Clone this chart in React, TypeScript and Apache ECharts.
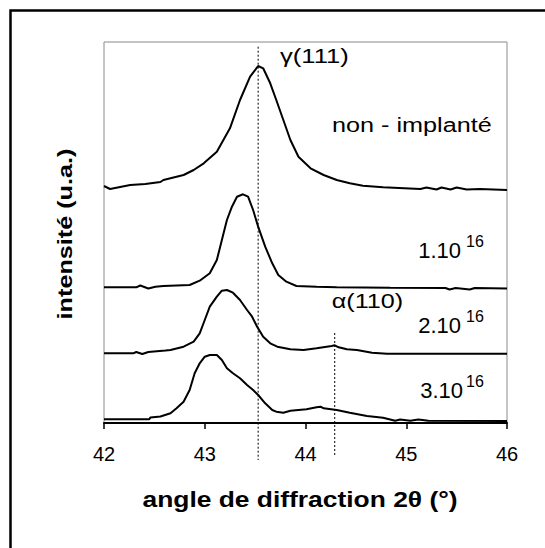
import React, { useEffect, useRef } from "react";
import * as echarts from "echarts";

// 2θ positions (degrees) and intensities (arbitrary units) for each sample
const nonImplTheta = [42.0, 42.06, 42.26, 42.41, 42.56, 42.59, 42.79, 42.89, 42.99, 43.12, 43.25, 43.35, 43.45, 43.53, 43.58, 43.65, 43.71, 43.78, 43.85, 43.93, 44.05, 44.18, 44.31, 44.44, 44.57, 44.77, 45.14, 45.2, 45.3, 45.35, 45.44, 45.5, 45.6, 45.73, 46.0];
const nonImplInt = [237, 234, 238, 239, 241, 243, 248, 253, 259.7, 271.3, 294.7, 323, 346.3, 357, 354.7, 339.7, 323, 303, 283, 266.3, 254.7, 248, 243, 239.7, 237.3, 235.7, 234, 235.5, 233.5, 235.5, 233.5, 235.5, 233.5, 234, 233];

const dose1Theta = [42.0, 42.32, 42.36, 42.44, 42.51, 42.59, 42.85, 42.95, 43.05, 43.12, 43.17, 43.22, 43.27, 43.32, 43.38, 43.43, 43.48, 43.53, 43.6, 43.67, 43.73, 43.81, 43.91, 44.11, 44.31, 44.84, 45.39, 45.43, 45.49, 45.63, 45.68, 46.0];
const dose1Int = [135.7, 135.7, 137.5, 134.5, 136.3, 137, 138, 142.3, 149.7, 163, 183, 203, 216.3, 226.3, 228.7, 226.3, 213, 196.3, 176.3, 159.7, 148, 141.3, 137, 136.3, 135.7, 135.3, 135, 133.5, 135, 133.5, 135, 134.5];

const dose2Theta = [42.0, 42.29, 42.32, 42.38, 42.44, 42.61, 42.66, 42.79, 42.89, 42.95, 43.0, 43.05, 43.12, 43.17, 43.22, 43.28, 43.35, 43.42, 43.47, 43.52, 43.58, 43.65, 43.72, 43.85, 43.98, 44.11, 44.21, 44.26, 44.29, 44.33, 44.41, 44.51, 44.66, 44.81, 46.0];
const dose2Int = [69.7, 69.7, 71, 69, 71, 72.5, 73, 76.3, 81.3, 89.7, 103, 116.3, 126.3, 132.3, 133, 130.3, 123, 113, 106.3, 96.3, 86.3, 79.7, 76.3, 73.7, 73, 74.7, 76.3, 77, 77.7, 75.7, 73.7, 73, 70.3, 69.3, 69.3];

const dose3Theta = [42.0, 42.45, 42.46, 42.56, 42.66, 42.72, 42.79, 42.85, 42.9, 42.95, 43.0, 43.05, 43.12, 43.17, 43.22, 43.28, 43.35, 43.42, 43.48, 43.53, 43.6, 43.67, 43.71, 43.78, 43.85, 44.01, 44.11, 44.15, 44.18, 44.31, 44.44, 44.61, 44.77, 44.89, 44.94, 45.04, 45.12, 45.22, 46.0];
const dose3Int = [3.7, 3.7, 5.5, 6.5, 9.7, 14.7, 21.3, 33, 49.7, 59.7, 66.3, 68, 68, 63, 54.7, 49.7, 44.7, 38, 33, 28, 19.7, 13, 11.3, 10.3, 12.3, 13.7, 15.7, 16.3, 14.7, 13, 10.3, 7, 5.3, 2.3, 3.5, 2.3, 3.5, 2.3, 2];

// x axis ticks
const xMin = 42;
const xMax = 46;
const xStep = 1;
// y axis extent (arbitrary units)
const yMin = 0;
const yMax = 381;

// reference lines: γ(111) and α(110) peak positions, with their vertical extents (data units)
const gammaTheta = 43.53;
const gammaSpan = [376.3, -37];
const alphaTheta = 44.29;
const alphaSpan = [90, -34];

const zip = (xs: number[], ys: number[]) => xs.map((x, i) => [x, ys[i]]);

export default function App() {
  const ref = useRef<HTMLDivElement>(null);
  useEffect(() => {
    document.body.style.margin = "0";
    const chart = echarts.init(ref.current!, null, { renderer: "svg" });
    const lineSeries = (name: string, xs: number[], ys: number[]) => ({
      name,
      type: "line",
      data: zip(xs, ys),
      showSymbol: false,
      symbol: "none",
      lineStyle: { color: "#000", width: 2 },
      silent: true,
    });
    chart.setOption({
      animation: false,
      backgroundColor: "#fff",
      grid: { left: 104, right: 38, top: 42, bottom: 125, show: true, borderColor: "#8a8a8a", borderWidth: 1 },
      xAxis: {
        type: "value",
        min: xMin,
        max: xMax,
        interval: xStep,
        axisLine: { lineStyle: { color: "#000", width: 2 } },
        axisTick: { length: 6, lineStyle: { color: "#000", width: 1.5 } },
        axisLabel: { fontSize: 20, color: "#000", fontFamily: "Liberation Sans, Arial, sans-serif", margin: 21 },
        splitLine: { show: false },
      },
      yAxis: {
        type: "value",
        min: yMin,
        max: yMax,
        axisLine: { show: false },
        axisTick: { show: false },
        axisLabel: { show: false },
        splitLine: { show: false },
      },
      series: [
        lineSeries("non - implanté", nonImplTheta, nonImplInt),
        lineSeries("1.10^16", dose1Theta, dose1Int),
        lineSeries("2.10^16", dose2Theta, dose2Int),
        lineSeries("3.10^16", dose3Theta, dose3Int),
      ],
    });

    const px = (x: number, y: number) => chart.convertToPixel({ gridIndex: 0 }, [x, y]) as number[];
    const g0 = px(gammaTheta, gammaSpan[0]);
    const g1 = px(gammaTheta, gammaSpan[1]);
    const a0 = px(alphaTheta, alphaSpan[0]);
    const a1 = px(alphaTheta, alphaSpan[1]);
    const F = "Liberation Sans, Arial, sans-serif";
    const c = 0.3465;
    const txt = (text: string, x: number, baseline: number, fs: number, align: string, opts: any = {}) => ({
      type: "text",
      x,
      y: baseline - c * fs,
      scaleX: opts.scaleX ?? 1,
      rotation: opts.rotation ?? 0,
      style: {
        text,
        fontSize: fs,
        fontFamily: F,
        fontWeight: opts.bold ? "bold" : "normal",
        fill: "#000",
        align,
        verticalAlign: "middle",
      },
      silent: true,
    });
    chart.setOption({
      graphic: [
        { type: "rect", shape: { x: 10.5, y: 10.5, width: 1000, height: 1000 }, style: { fill: "none", stroke: "#000", lineWidth: 2.5 }, silent: true },
        { type: "line", shape: { x1: g0[0], y1: g0[1], x2: g1[0], y2: g1[1] }, style: { stroke: "#000", lineWidth: 1, lineDash: [2, 2] }, silent: true },
        { type: "line", shape: { x1: a0[0], y1: a0[1], x2: a1[0], y2: a1[1] }, style: { stroke: "#000", lineWidth: 1, lineDash: [2, 2] }, silent: true },
        txt("γ(111)", 280, 63.3, 21, "left", { scaleX: 1.22 }),
        txt("α(110)", 331.7, 308, 21, "left", { scaleX: 1.2 }),
        txt("non - implanté", 491.7, 131.7, 21, "right", { scaleX: 1.2 }),
        txt("1.10", 461, 258.3, 22, "right"),
        txt("16", 466, 246.7, 16, "left"),
        txt("2.10", 461, 333.3, 22, "right"),
        txt("16", 466, 321.7, 16, "left"),
        txt("3.10", 463, 398.3, 22, "right"),
        txt("16", 466, 386.7, 16, "left"),
        txt("angle de diffraction 2θ (°)", 300, 506.7, 22, "center", { bold: true, scaleX: 1.2 }),
        {
          type: "text",
          x: 71.7 - c * 21,
          y: 234,
          rotation: Math.PI / 2,
          scaleX: 1.2,
          style: { text: "intensité (u.a.)", fontSize: 21, fontFamily: F, fontWeight: "bold", fill: "#000", align: "center", verticalAlign: "middle" },
          silent: true,
        },
      ],
    });
    return () => chart.dispose();
  }, []);
  return <div ref={ref} style={{ width: 545, height: 548 }} />;
}
